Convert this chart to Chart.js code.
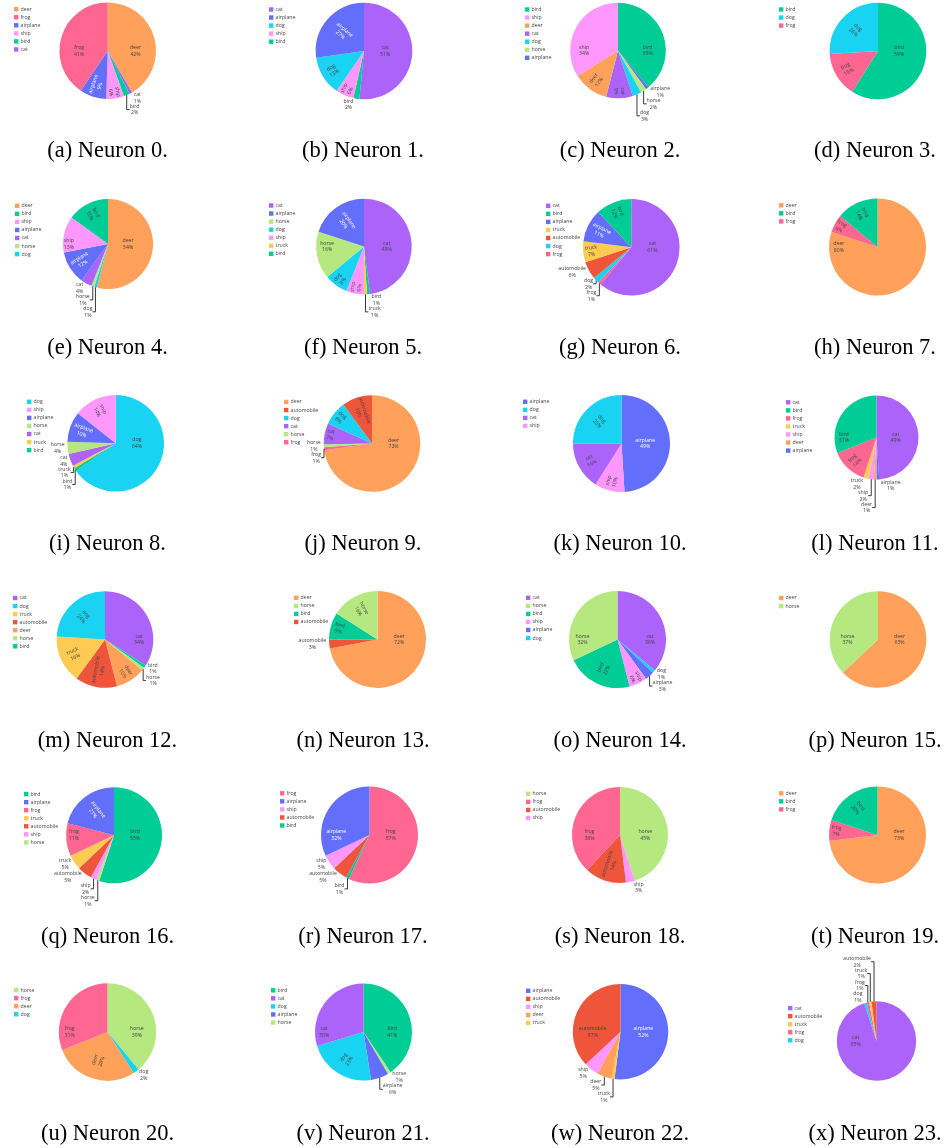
<!DOCTYPE html>
<html><head><meta charset="utf-8">
<script src="https://cdn.jsdelivr.net/npm/chart.js@4.4.0/dist/chart.umd.min.js"></script>
<style>
html,body{margin:0;padding:0;background:#fff;width:948px;height:1148px;overflow:hidden;position:relative}
canvas{position:absolute}
.cap{position:absolute;font-family:"Liberation Serif","Times New Roman",serif;font-size:22.5px;color:#000;white-space:nowrap;transform:translate(-50%,-50%);line-height:1}
</style></head><body>
<script>
// ---------------- DATA (legend order, percent values as labelled) ----------------
const n0_labels = ['deer','frog','airplane','ship','bird','cat'];
const n0_values = [42,41,9,6,2,1];
const n1_labels = ['cat','airplane','dog','ship','bird'];
const n1_values = [51,27,13,6,2];
const n2_labels = ['bird','ship','deer','cat','dog','horse','airplane'];
const n2_values = [39,34,12,9,3,2,1];
const n3_labels = ['bird','dog','frog'];
const n3_values = [59,26,15];
const n4_labels = ['deer','bird','ship','airplane','cat','horse','dog'];
const n4_values = [54,15,13,12,4,1,1];
const n5_labels = ['cat','airplane','horse','dog','ship','truck','bird'];
const n5_values = [48,20,16,8,6,1,1];
const n6_labels = ['cat','bird','airplane','truck','automobile','dog','frog'];
const n6_values = [61,12,11,7,6,2,1];
const n7_labels = ['deer','bird','frog'];
const n7_values = [80,14,6];
const n8_labels = ['dog','ship','airplane','horse','cat','truck','bird'];
const n8_values = [64,14,10,4,4,1,1];
const n9_labels = ['deer','automobile','dog','cat','horse','frog'];
const n9_values = [72,10,8,7,1,1];
const n10_labels = ['airplane','dog','cat','ship'];
const n10_values = [49,25,16,10];
const n11_labels = ['cat','bird','frog','truck','ship','deer','airplane'];
const n11_values = [49,31,14,2,2,1,1];
const n12_labels = ['cat','dog','truck','automobile','deer','horse','bird'];
const n12_values = [34,24,16,14,10,1,1];
const n13_labels = ['deer','horse','bird','automobile'];
const n13_values = [72,16,9,3];
const n14_labels = ['cat','horse','bird','ship','airplane','dog'];
const n14_values = [36,32,22,6,3,1];
const n15_labels = ['deer','horse'];
const n15_values = [63,37];
const n16_labels = ['bird','airplane','frog','truck','automobile','ship','horse'];
const n16_values = [55,21,11,5,5,2,1];
const n17_labels = ['frog','airplane','ship','automobile','bird'];
const n17_values = [57,32,5,5,1];
const n18_labels = ['horse','frog','automobile','ship'];
const n18_values = [45,38,14,3];
const n19_labels = ['deer','bird','frog'];
const n19_values = [73,20,7];
const n20_labels = ['horse','frog','deer','dog'];
const n20_values = [39,31,28,2];
const n21_labels = ['bird','cat','dog','airplane','horse'];
const n21_values = [41,30,23,6,1];
const n22_labels = ['airplane','automobile','ship','deer','truck'];
const n22_values = [52,37,5,5,1];
const n23_labels = ['cat','automobile','truck','frog','dog'];
const n23_values = [95,2,1,1,1];

const NEURONS = [
  [n0_labels,n0_values],[n1_labels,n1_values],[n2_labels,n2_values],[n3_labels,n3_values],
  [n4_labels,n4_values],[n5_labels,n5_values],[n6_labels,n6_values],[n7_labels,n7_values],
  [n8_labels,n8_values],[n9_labels,n9_values],[n10_labels,n10_values],[n11_labels,n11_values],
  [n12_labels,n12_values],[n13_labels,n13_values],[n14_labels,n14_values],[n15_labels,n15_values],
  [n16_labels,n16_values],[n17_labels,n17_values],[n18_labels,n18_values],[n19_labels,n19_values],
  [n20_labels,n20_values],[n21_labels,n21_values],[n22_labels,n22_values],[n23_labels,n23_values]
];

// ---------------- STYLE / LAYOUT ----------------
const CLASS_COLORS = {
  airplane:'#636EFA', automobile:'#EF553B', bird:'#00CC96', cat:'#AB63FA', deer:'#FFA15A',
  dog:'#19D3F3', frog:'#FF6692', horse:'#B6E880', ship:'#FF97FF', truck:'#FECB52'
};
const PIE_CX = [107.7,364,618,878, 108,364,631.3,877.5, 115.7,372,621.5,876.5, 105,377.5,617.5,878, 114,369.5,620,877.5, 107.5,363.5,620.5,876.5];
const PIE_CY = [50.7,51,50.5,51, 244,246.5,247.3,247, 443.3,443.5,443.5,437.5, 639.5,639.5,639.5,639.5, 835.3,835,835,835, 1032,1032,1031.7,1041];
const PIE_R  = [48.3,48.3,47.8,48.3, 45,47.8,48.3,48.5, 48.3,48.3,48.5,42, 48.3,48.5,48.5,48.3, 48,48.5,48,48.5, 48.7,48.5,47.7,39.7];
const LEGEND_X = [14,269,525,779, 15,269,546,779, 27,284,523,786, 13,294,526,779, 24,280,526,779, 14,271,526,788];
const CAP_X = [107.5,363,620,875];
const CAP_Y = [150,347,543,740,936,1133];

const FONT_PX = 5.2;
const LINE_PX = 1.3 * FONT_PX;
const BOX_H = 11.9;
const TEXTPAD = 0.9;
const TEXT_DARK = '#444';

function isDark(hex){
  const r=parseInt(hex.substr(1,2),16), g=parseInt(hex.substr(3,2),16), b=parseInt(hex.substr(5,2),16);
  return (r*299+g*587+b*114)/1000 < 128;
}
function calcMaxHalfSize(a, halfAngle, r){
  const q = a + 1/(2*Math.tan(halfAngle));
  return r*Math.min(1/(Math.sqrt(q*q+0.5)+q), 1/(Math.sqrt(a*a+0.5)+a));
}
function calcRotate(t){ return ((180/Math.PI*t + 720) % 180) - 90; }
function radT(w, h, r, halfAngle, midAngle){
  const r2 = Math.max(0, r - 2*TEXTPAD);
  const a = w/h;
  const s = calcMaxHalfSize(a, halfAngle, r2);
  const b = s/r2;
  return {scale: 2*s/h, rCenter: Math.cos(b) - a*b, rotate: calcRotate(midAngle)};
}

const labelPlugin = {
  id: 'plotlyLabels',
  afterDraw(chart){
    const cfg = chart.canvas._cfg;
    const ctx = chart.ctx;
    const arcs = chart.getDatasetMeta(0).data;
    const labels = chart.data.labels;
    const values = chart.data.datasets[0].data;
    const colors = chart.data.datasets[0].backgroundColor;
    const total = values.reduce((s,v)=>s+v,0);
    ctx.save();
    ctx.font = FONT_PX + 'px "Open Sans"';
    ctx.textAlign = 'center';
    ctx.textBaseline = 'middle';
    const quads = [[[],[]],[[],[]]];
    const items = [];
    arcs.forEach((arc,i)=>{
      const t0 = arc.startAngle + Math.PI/2, t1 = arc.endAngle + Math.PI/2;
      const r = arc.outerRadius, cx = arc.x, cy = arc.y;
      const lines = [labels[i], values[i] + '%'];
      const w = Math.max(...lines.map(s=>ctx.measureText(s).width));
      const h = BOX_H;
      const mid = (t0+t1)/2;
      const half = Math.PI*Math.min(values[i]/total, 0.5);
      const cands = [];
      [1.5*Math.PI, 0.5*Math.PI].forEach(A=>{
        if (t0 < A && A < t1){
          const tr = radT(w, h, r, Math.min(A-t0, t1-A), Math.PI/2);
          tr.pos = A; cands.push(tr);
        }
      });
      const tm = radT(w, h, r, half, mid); tm.pos = mid; cands.push(tm);
      let best = 0, maxS = 0;
      for (let k=0;k<cands.length;k++){
        if (cands[k].scale > maxS){ maxS = cands[k].scale; best = k; }
        if (maxS >= 1) break;
      }
      const px = r*Math.sin(mid), py = -r*Math.cos(mid);
      const it = {lines, w, h, cx, cy, pxmid:[px,py], color: colors[i]};
      if (maxS >= 1){
        const t = cands[best];
        it.outside = false;
        it.x = cx + r*Math.sin(t.pos)*t.rCenter;
        it.y = cy - r*Math.cos(t.pos)*t.rCenter;
        it.rot = t.rotate;
      } else {
        let dx = w/2, dy = h/2;
        if (px < 0) dx = -dx;
        if (py < 0) dy = -dy;
        const ox = dx + Math.abs(dy)*(dx>0?1:-1)/2;
        const oy = dy/(1 + (px*px)/(py*py));
        it.outside = true;
        it.x = cx + px + ox;
        it.y = cy + py + oy;
        it.yMin = it.y - h/2; it.yMax = it.y + h/2; it.extraY = 0;
      }
      items.push(it);
      quads[py < 0 ? 0 : 1][px < 0 ? 0 : 1].push(it);
    });
    // avoid overlaps of outside labels (vertical scooting)
    for (let yHalf=0; yHalf<2; yHalf++){
      const eqFirst = yHalf ? (a,b)=>a.pxmid[1]-b.pxmid[1] : (a,b)=>b.pxmid[1]-a.pxmid[1];
      const ySign = yHalf ? 1 : -1;
      for (let xHalf=0; xHalf<2; xHalf++){
        const q = quads[yHalf][xHalf];
        q.sort(eqFirst);
        const opp = quads[1-yHalf][xHalf];
        const outs = q.filter(p=>p.outside);
        let firstOpp = null;
        if (yHalf){ for (const p of opp){ if (p.outside){ firstOpp = p; break; } } }
        for (let i=0;i<outs.length;i++){
          let prev = i ? outs[i-1] : null;
          if (firstOpp && !i) prev = firstOpp;
          if (!prev) continue;
          const prevOuter = prev.extraY + (yHalf ? prev.yMax : prev.yMin);
          const thisInner = yHalf ? outs[i].yMin : outs[i].yMax;
          const ne = prevOuter - thisInner;
          if (ne*ySign > 0) outs[i].extraY = ne;
        }
      }
    }
    items.forEach(it=>{
      if (it.outside){
        if (it.extraY){
          const sx = it.cx + it.pxmid[0], sy = it.cy + it.pxmid[1];
          const ey = it.y + it.extraY;
          const fx = (it.h/4)*(it.pxmid[0] < 0 ? -1 : 1);
          ctx.beginPath();
          ctx.moveTo(sx, sy); ctx.lineTo(sx, ey); ctx.lineTo(sx+fx, ey);
          ctx.strokeStyle = '#222'; ctx.lineWidth = 0.9; ctx.stroke();
        }
        ctx.fillStyle = TEXT_DARK;
        it.lines.forEach((ln,j)=>ctx.fillText(ln, it.x, it.y + it.extraY + (j-(it.lines.length-1)/2)*LINE_PX));
      } else {
        ctx.save();
        ctx.translate(it.x, it.y);
        ctx.rotate(it.rot*Math.PI/180);
        ctx.fillStyle = isDark(it.color) ? '#fff' : TEXT_DARK;
        it.lines.forEach((ln,j)=>ctx.fillText(ln, 0, (j-(it.lines.length-1)/2)*LINE_PX));
        ctx.restore();
      }
    });
    // legend
    ctx.textAlign = 'left';
    cfg.legend.forEach((lab,i)=>{
      const y = cfg.legendY + i*8.05;
      ctx.fillStyle = CLASS_COLORS[lab];
      ctx.fillRect(cfg.legendX, y-2.2, 4.4, 4.4);
      ctx.fillStyle = TEXT_DARK;
      ctx.fillText(lab, cfg.legendX + 6.6, y);
    });
    ctx.restore();
  }
};

function build(){
  NEURONS.forEach(([labs, vals], k)=>{
    const cx = PIE_CX[k], cy = PIE_CY[k], r = PIE_R[k];
    const W = 262, H = 212;
    const cl = Math.round(cx) - 131, ct = Math.round(cy) - 102;
    const cv = document.createElement('canvas');
    cv.width = W; cv.height = H;
    cv.style.left = cl+'px'; cv.style.top = ct+'px';
    cv.style.width = W+'px'; cv.style.height = H+'px';
    cv._cfg = {legend: labs, legendX: LEGEND_X[k]-cl, legendY: cy-ct-r+6.8};
    document.body.appendChild(cv);
    // plotly-like ordering: first slice clockwise from 12 o'clock, the rest counter-clockwise
    const ord = [0]; for (let i=labs.length-1;i>=1;i--) ord.push(i);
    new Chart(cv, {
      type:'pie',
      data:{
        labels: ord.map(i=>labs[i]),
        datasets:[{
          data: ord.map(i=>vals[i]),
          backgroundColor: ord.map(i=>CLASS_COLORS[labs[i]]),
          borderWidth:0, hoverOffset:0, offset:0
        }]
      },
      options:{
        responsive:false, animation:false, events:[],
        layout:{padding:{left: cx-cl-r, right: W-(cx-cl+r), top: cy-ct-r, bottom: H-(cy-ct+r)}},
        plugins:{legend:{display:false}, tooltip:{enabled:false}}
      },
      plugins:[labelPlugin]
    });
    const cap = document.createElement('div');
    cap.className = 'cap';
    cap.textContent = '(' + String.fromCharCode(97+k) + ') Neuron ' + k + '.';
    cap.style.left = CAP_X[k%4] + 'px';
    cap.style.top = CAP_Y[Math.floor(k/4)] + 'px';
    document.body.appendChild(cap);
  });
}
if (document.fonts && document.fonts.load){
  document.fonts.load('6px "Open Sans"').then(build, build);
} else build();
</script>
</body></html>
